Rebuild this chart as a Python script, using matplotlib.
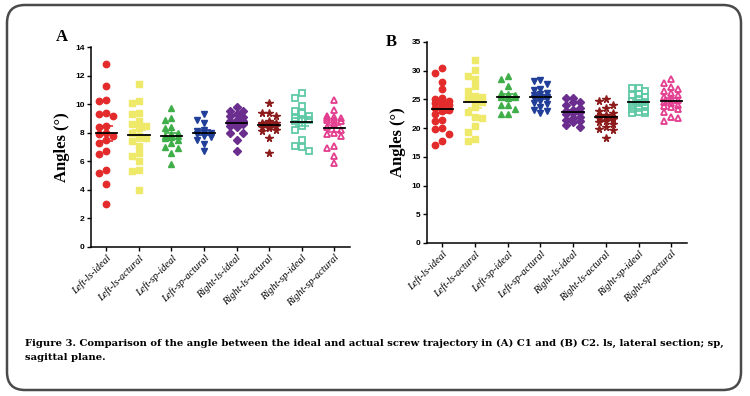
import numpy as np
import matplotlib
matplotlib.use("Agg")
import matplotlib.pyplot as plt
from matplotlib.patches import FancyBboxPatch
from matplotlib.transforms import IdentityTransform

# groups on the x axis (same for both panels)
groups = ['Left-ls-ideal', 'Left-ls-actural', 'Left-sp-ideal', 'Left-sp-actural',
          'Right-ls-ideal', 'Right-ls-actural', 'Right-sp-ideal', 'Right-sp-actural']

# panel A (C1), angles in degrees
a_left_ls_ideal = [12.8, 11.3, 10.2, 10.3, 9.3, 9.2, 9.4, 8.5, 8.4, 7.9, 8.0, 7.8, 7.5, 7.3,
                   6.7, 6.5, 5.4, 5.2, 4.4, 3.0]
a_left_ls_act = [11.4, 10.2, 10.1, 9.4, 9.3, 8.8, 8.6, 8.5, 8.3, 8.0, 7.8, 7.6, 7.4, 7.1,
                 6.6, 6.4, 6.0, 5.4, 5.3, 4.0]
a_left_sp_ideal = [9.7, 9.0, 8.9, 8.4, 8.3, 8.0, 7.9, 7.8, 7.8, 7.7, 7.6, 7.5, 7.3, 7.0,
                   6.9, 6.6, 5.8]
a_left_sp_act = [9.3, 8.9, 8.7, 8.2, 8.1, 8.0, 8.0, 7.9, 7.8, 7.7, 7.5, 7.2, 6.7]
a_right_ls_ideal = [9.8, 9.5, 9.5, 9.3, 9.2, 9.1, 8.9, 8.8, 8.8, 8.7, 8.7, 8.6, 8.6, 8.5,
                    8.4, 8.0, 8.0, 7.5, 6.7]
a_right_ls_act = [10.1, 9.4, 9.4, 9.2, 8.8, 8.7, 8.7, 8.6, 8.6, 8.5, 8.5, 8.4, 8.3, 8.2,
                  8.1, 7.6, 6.6]
a_right_sp_ideal = [10.8, 10.4, 9.9, 9.5, 9.4, 9.2, 9.0, 8.9, 8.9, 8.8, 8.5, 8.2, 7.5, 7.1,
                    7.0, 6.7]
a_right_sp_act = [10.3, 9.6, 9.2, 9.1, 9.0, 9.0, 8.9, 8.9, 8.8, 8.6, 8.4, 8.2, 8.0, 7.9,
                  7.8, 7.1, 6.9, 6.4, 5.9]

# panel B (C2)
b_left_ls_ideal = [30.5, 29.6, 28.0, 26.8, 25.2, 25.0, 24.8, 24.5, 24.3, 24.0, 23.8, 23.5,
                   23.2, 23.0, 22.5, 21.5, 21.3, 20.0, 19.8, 18.9, 17.7, 17.0]
b_left_ls_act = [31.8, 30.1, 29.1, 28.6, 27.4, 26.4, 25.6, 25.4, 25.3, 24.9, 24.5, 23.7,
                 22.8, 22.0, 21.8, 20.3, 19.4, 18.1, 17.7]
b_left_sp_ideal = [29.1, 28.5, 27.3, 26.2, 26.0, 25.8, 25.7, 25.6, 25.5, 25.4, 25.3, 24.1,
                   24.0, 23.3, 22.4, 22.4]
b_left_sp_act = [28.4, 28.2, 27.6, 26.8, 26.6, 26.2, 25.9, 25.7, 25.5, 25.4, 25.2, 25.0,
                 24.8, 24.4, 24.2, 23.6, 23.2, 23.0, 22.7]
b_right_ls_ideal = [25.3, 25.3, 24.6, 24.5, 24.0, 23.5, 23.2, 23.0, 22.8, 22.6, 22.5, 22.0,
                    21.8, 21.5, 21.2, 21.0, 20.6, 20.2]
b_right_ls_act = [25.0, 24.8, 24.0, 23.5, 23.0, 22.6, 22.3, 22.1, 22.0, 21.9, 21.8, 21.6,
                  21.3, 21.0, 20.7, 20.2, 19.8, 19.6, 18.3]
b_right_sp_ideal = [27.0, 26.9, 26.5, 26.0, 25.8, 25.5, 25.0, 24.8, 24.6, 24.4, 24.0, 23.8,
                    23.5, 23.4, 23.0, 22.8, 22.7, 22.6]
b_right_sp_act = [28.5, 27.8, 27.2, 26.8, 26.5, 26.2, 25.8, 25.5, 25.2, 24.9, 24.6, 24.3,
                  24.0, 23.9, 23.6, 23.3, 22.8, 22.0, 21.8, 21.3]

colors = ['#e32b2b', '#efe96a', '#3fae49', '#213f99', '#6b2d8e', '#8c1c1c', '#5fc9a5', '#e33d8f']
markers = ['o', 's', '^', 'v', 'D', '*', 's', '^']
msizes = [4.6, 4.4, 5.0, 5.0, 4.3, 5.5, 4.4, 5.0]
hollow = [False, False, False, False, False, False, True, True]


def swarm(vals, ythr, dx):
    # prism-like column scatter, three columns, overlap allowed when crowded
    order = np.argsort(vals)[::-1]
    placed = {-1: [], 0: [], 1: []}
    offs = np.zeros(len(vals))
    for i in order:
        v = vals[i]
        best, bestd = 0, -1
        for k in [0, -1, 1]:
            d = min([abs(p - v) for p in placed[k]] + [99])
            if d >= ythr:
                best = k
                break
            if d > bestd:
                best, bestd = k, d
        placed[best].append(v)
        offs[i] = best * dx
    return offs


def panel(ax, data, ymax, ystep):
    ythr = ymax * 6.5 / 200.0
    for i, vals in enumerate(data):
        vals = np.array(vals)
        xs = i + swarm(vals, ythr, 0.21)
        if hollow[i]:
            ax.plot(xs, vals, ls='none', marker=markers[i], ms=msizes[i], mfc='none',
                    mec=colors[i], mew=1.3, zorder=3)
        else:
            ax.plot(xs, vals, ls='none', marker=markers[i], ms=msizes[i], color=colors[i],
                    mec=colors[i], zorder=3)
        m = vals.mean()
        sem = vals.std(ddof=1) / np.sqrt(len(vals))
        ax.errorbar(i, m, yerr=sem, color=colors[i], capsize=5, elinewidth=1.2,
                    capthick=1.2, zorder=4)
        ax.plot([i - 0.33, i + 0.33], [m, m], color='black', lw=1.3, zorder=5)
    ax.set_xlim(-0.47, 7.48)
    ax.set_ylim(0, ymax)
    ax.set_yticks(np.arange(0, ymax + 0.1, ystep))
    ax.set_xticks(range(len(groups)))
    ax.set_xticklabels(groups, rotation=45, ha='right', rotation_mode='anchor',
                       fontsize=7.5, style='italic', family='Liberation Serif')
    for lab in ax.get_yticklabels():
        lab.set_fontweight('bold')
        lab.set_fontsize(6)
        lab.set_family('Liberation Sans')
    ax.spines['top'].set_visible(False)
    ax.spines['right'].set_visible(False)
    ax.spines['left'].set_linewidth(1.1)
    ax.spines['bottom'].set_linewidth(1.1)
    ax.tick_params(axis='both', length=3, width=1.0, pad=1.5)
    ax.set_ylabel('Angles (°)', fontsize=12, fontweight='bold', family='Liberation Serif',
                  labelpad=4)
    ax.patch.set_alpha(0)


fig = plt.figure(figsize=(7.5, 3.96), dpi=100)
axA = fig.add_axes([0.1213, 0.3763, 0.3453, 0.505])
axB = fig.add_axes([0.5693, 0.3864, 0.3467, 0.5076])

panel(axA, [a_left_ls_ideal, a_left_ls_act, a_left_sp_ideal, a_left_sp_act,
            a_right_ls_ideal, a_right_ls_act, a_right_sp_ideal, a_right_sp_act], 14, 2)
panel(axB, [b_left_ls_ideal, b_left_ls_act, b_left_sp_ideal, b_left_sp_act,
            b_right_ls_ideal, b_right_ls_act, b_right_sp_ideal, b_right_sp_act], 35, 5)

fig.text(62 / 750, 1 - 37 / 396, 'A', fontsize=12, fontweight='bold',
         family='Liberation Serif', ha='center', va='center')
fig.text(391 / 750, 1 - 42 / 396, 'B', fontsize=12, fontweight='bold',
         family='Liberation Serif', ha='center', va='center')

fig.text(25 / 750, 1 - 343 / 396,
         'Figure 3. Comparison of the angle between the ideal and actual screw trajectory in '
         '(A) C1 and (B) C2. ls, lateral section; sp,',
         fontsize=7.2, fontweight='bold', family='DejaVu Serif', va='center')
fig.text(25 / 750, 1 - 357 / 396, 'sagittal plane.',
         fontsize=7.2, fontweight='bold', family='DejaVu Serif', va='center')

# rounded frame around the whole figure (pixel coords)
frame = FancyBboxPatch((7, 6), 734, 385, boxstyle='round,pad=0,rounding_size=18',
                       transform=IdentityTransform(), fill=False, ec='#4a4a4a', lw=1.8)
fig.patches.append(frame)

fig.savefig('out.png', dpi=100)
